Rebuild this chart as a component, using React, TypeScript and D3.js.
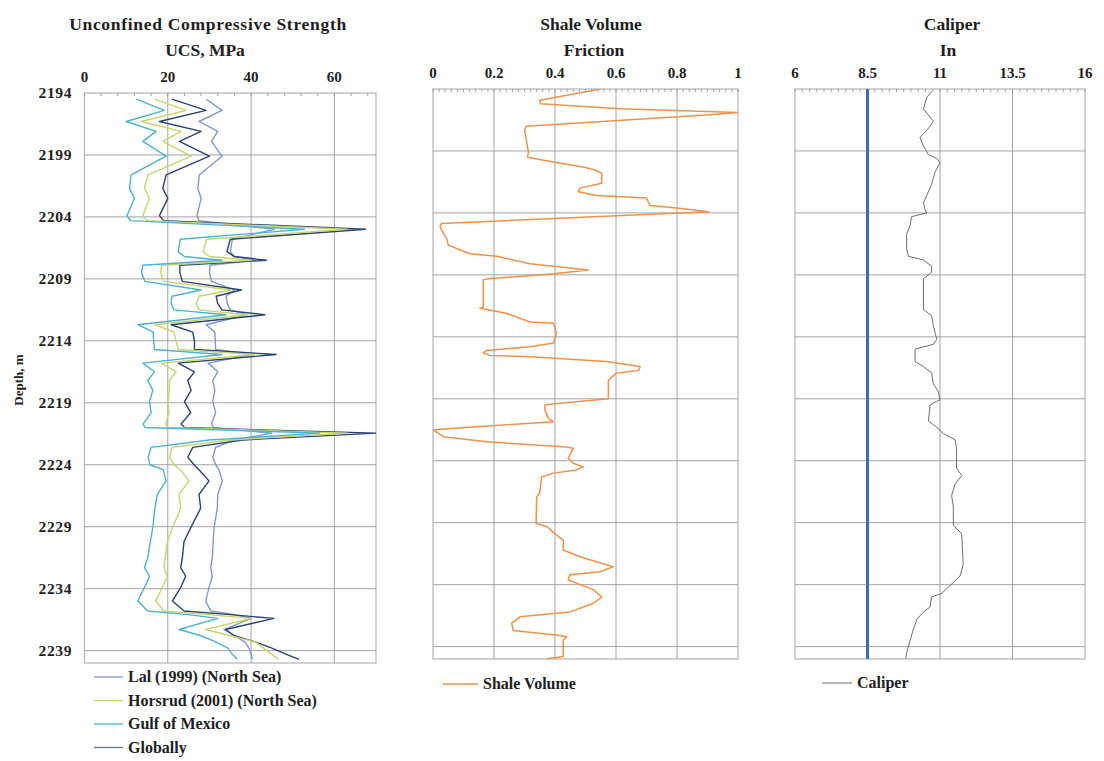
import React from 'react';
import * as d3 from 'd3';

// ---------- UCS panel data ----------
const ucsDepth = [2194.5, 2195.4, 2196.3, 2197.1, 2197.9, 2199.1, 2200.6, 2201.7, 2202.5, 2203.9, 2204.3, 2205.0, 2205.8, 2206.8, 2207.2, 2207.5, 2207.9, 2208.5, 2209.2, 2209.9, 2210.4, 2211.0, 2211.5, 2211.9, 2212.7, 2213.3, 2214.0, 2214.7, 2215.1, 2215.8, 2216.5, 2217.2, 2218.0, 2218.9, 2219.8, 2220.7, 2221.0, 2221.45, 2222.0, 2222.6, 2223.4, 2224.0, 2224.4, 2225.3, 2226.4, 2227.5, 2229.1, 2230.2, 2231.5, 2232.3, 2233.0, 2233.9, 2235.0, 2235.8, 2236.1, 2236.4, 2237.3, 2237.8, 2238.3, 2238.8, 2239.3, 2239.7];
const ucsGulfOfMexico = [12.4, 19.2, 10, 17.2, 14, 19.6, 11.2, 10.8, 12, 10.2, 11, 52.8, 23, 22.5, 24, 33, 14, 13.7, 14.5, 28, 21, 20.8, 21.5, 34, 12.8, 16.5, 16.6, 16.8, 33, 14, 16.8, 15.2, 16.4, 15.6, 16, 14.1, 14.5, 56.5, 30, 16, 15.3, 15.7, 18.9, 19.6, 17.5, 16.9, 16.4, 15.8, 15.2, 14.4, 15.6, 14.4, 12.8, 15.2, 25, 32, 22.7, 28, 31.5, 34.4, 35.5, 36.7];
const ucsHorsrud = [16.8, 24.4, 13.6, 23.2, 18.8, 25.6, 15.2, 14.4, 15.6, 14, 15, 63, 29.3, 28.5, 30, 40, 18.5, 18.3, 19, 35.2, 27.5, 26.8, 27.5, 39, 16.8, 21.5, 22, 22.5, 40.8, 18.5, 22, 20.4, 20.4, 20, 20.3, 19.5, 20, 63, 35, 21, 20.4, 21.5, 23, 25.1, 22.7, 23.1, 21.1, 19.9, 19.4, 19.1, 19.9, 18.7, 17.1, 19.1, 30, 40, 29.1, 35, 41, 43, 45, 46.7];
const ucsGlobally = [21, 29.2, 18, 28, 22.8, 30, 19.6, 18.8, 20, 18, 19, 67.5, 35, 34.2, 36, 43.7, 22.9, 22.9, 23.5, 37.7, 31.6, 32, 33, 43.3, 20.8, 26, 26.4, 26.4, 46, 22.5, 26.4, 24.8, 25.6, 24, 25.5, 23.2, 24, 70, 38, 26, 24.8, 26.3, 27.5, 29.9, 27.5, 27.9, 25.5, 23.9, 23.5, 23.1, 24.3, 23.1, 21.1, 23.9, 35, 45.5, 33.9, 36, 41, 45, 48.5, 51.5];
const ucsLal = [29.3, 33, 27.5, 32, 30.5, 33, 27.6, 27.2, 28, 27, 27.5, 45.6, 35.5, 35, 36, 41, 30.1, 30, 30.5, 36, 34, 34.3, 35, 39, 29.2, 31.3, 31.4, 31.5, 40, 29.7, 32, 30.8, 31.3, 30.8, 31.5, 30.5, 31, 45, 36, 31.5, 30.8, 31.5, 32.3, 33.1, 32, 31.9, 31.1, 30.9, 30.7, 30.3, 30.7, 29.9, 29.1, 30.3, 36, 40, 33.5, 36, 38.5, 39.5, 40, 40.3];
const ucsTicks = [0, 20, 40, 60];

// ---------- Shale volume data ----------
const shaleDepth = [2194.0, 2194.9, 2195.2, 2195.6, 2195.9, 2196.05, 2197.0, 2197.3, 2199.1, 2199.5, 2199.9, 2200.3, 2200.5, 2200.8, 2201.6, 2202.0, 2202.3, 2202.6, 2202.8, 2203.4, 2203.6, 2203.9, 2204.85, 2205.1, 2205.65, 2206.05, 2206.6, 2207.3, 2207.5, 2208.1, 2208.3, 2208.6, 2208.9, 2209.15, 2209.3, 2209.4, 2211.6, 2211.7, 2211.8, 2212.1, 2212.5, 2212.8, 2212.9, 2213.7, 2214.5, 2214.8, 2215.1, 2215.3, 2215.5, 2215.6, 2216.0, 2216.4, 2216.7, 2216.95, 2217.5, 2219.0, 2219.4, 2219.5, 2219.9, 2220.6, 2220.85, 2221.5, 2222.06, 2222.47, 2222.9, 2223.0, 2223.8, 2224.2, 2224.5, 2224.75, 2225.0, 2225.3, 2226.6, 2226.9, 2229.06, 2229.3, 2229.9, 2230.4, 2231.2, 2231.75, 2232.55, 2232.96, 2233.2, 2233.6, 2234.0, 2234.4, 2235.0, 2235.5, 2236.2, 2236.6, 2237.1, 2237.7, 2238.1, 2238.2, 2238.5, 2239.8, 2240.0];
const shaleVolume = [0.55, 0.35, 0.353, 0.613, 1.0, 0.92, 0.307, 0.3, 0.313, 0.31, 0.395, 0.493, 0.526, 0.553, 0.553, 0.482, 0.476, 0.537, 0.70, 0.711, 0.80, 0.903, 0.028, 0.023, 0.034, 0.045, 0.05, 0.121, 0.209, 0.318, 0.395, 0.509, 0.395, 0.274, 0.187, 0.165, 0.165, 0.154, 0.176, 0.24, 0.285, 0.318, 0.395, 0.405, 0.395, 0.318, 0.176, 0.165, 0.187, 0.318, 0.569, 0.679, 0.675, 0.60, 0.575, 0.575, 0.40, 0.367, 0.367, 0.378, 0.395, 0.001, 0.034, 0.176, 0.438, 0.46, 0.443, 0.46, 0.493, 0.47, 0.395, 0.356, 0.35, 0.34, 0.338, 0.373, 0.40, 0.427, 0.427, 0.482, 0.591, 0.548, 0.449, 0.443, 0.482, 0.526, 0.553, 0.526, 0.449, 0.285, 0.258, 0.263, 0.416, 0.438, 0.427, 0.427, 0.37];
const shaleTicks = [0, 0.2, 0.4, 0.6, 0.8, 1];

// ---------- Caliper data ----------
const caliperDepth = [2194.2, 2194.7, 2195.6, 2196.1, 2196.6, 2197.0, 2197.5, 2197.9, 2198.6, 2199.3, 2199.6, 2199.95, 2200.7, 2201.7, 2202.6, 2203.2, 2203.7, 2204.0, 2204.3, 2205.0, 2205.7, 2206.9, 2207.5, 2207.8, 2208.3, 2208.8, 2209.3, 2211.8, 2212.3, 2213.1, 2214.2, 2214.6, 2215.0, 2216.0, 2216.4, 2216.9, 2217.8, 2218.4, 2219.1, 2219.2, 2219.5, 2220.8, 2221.3, 2221.8, 2222.3, 2223.0, 2224.6, 2225.2, 2225.9, 2226.8, 2227.7, 2229.2, 2229.9, 2232.4, 2233.3, 2234.2, 2234.7, 2235.0, 2235.8, 2236.2, 2236.8, 2237.6, 2238.5, 2239.5, 2240.0];
const caliperValues = [10.71, 10.54, 10.43, 10.6, 10.77, 10.66, 10.48, 10.31, 10.43, 10.6, 10.89, 11.0, 10.83, 10.71, 10.54, 10.43, 10.48, 10.54, 10.02, 9.97, 9.85, 9.85, 9.91, 10.43, 10.71, 10.71, 10.43, 10.43, 10.71, 10.77, 10.89, 10.77, 10.14, 10.14, 10.43, 10.71, 10.77, 10.94, 11.0, 10.89, 10.66, 10.6, 10.89, 11.11, 11.52, 11.57, 11.57, 11.75, 11.52, 11.4, 11.46, 11.46, 11.75, 11.8, 11.69, 11.29, 11.06, 10.71, 10.66, 10.43, 10.2, 10.08, 9.97, 9.85, 9.82];
const caliperTicks = [6, 8.5, 11, 13.5, 16];
const bitSize = 8.5;

const depthTicks = [2194, 2199, 2204, 2209, 2214, 2219, 2224, 2229, 2234, 2239];
const depthDomain: [number, number] = [2194, 2240];

const FONT = '"Liberation Serif", "Times New Roman", serif';
const GRID = '#a3a3a3';
const BORDER = '#b5b5b5';
const INK = '#1e1e1e';

type PanelProps = {
  id: string;
  x0: number; x1: number; y0: number; y1: number;
  xDomain: [number, number];
  xTicks: number[];
  minorStep: number;
  tickFmt: (v: number) => string;
  series: { xs: number[]; ds: number[]; color: string; width: number }[];
  vlines?: { v: number; color: string; width: number }[];
};

function Panel(p: PanelProps) {
  const x = d3.scaleLinear().domain(p.xDomain).range([p.x0, p.x1]);
  const y = d3.scaleLinear().domain(depthDomain).range([p.y0, p.y1]);
  const minors = d3.range(p.xDomain[0], p.xDomain[1] + 1e-9, p.minorStep);
  return (
    <g>
      <defs>
        <clipPath id={p.id}>
          <rect x={p.x0} y={p.y0} width={p.x1 - p.x0} height={p.y1 - p.y0} />
        </clipPath>
      </defs>
      <rect x={p.x0} y={p.y0} width={p.x1 - p.x0} height={p.y1 - p.y0} fill="#fff" stroke={BORDER} strokeWidth={1.2} />
      {p.xTicks.filter((t) => t > p.xDomain[0] && t < p.xDomain[1]).map((t) => (
        <line key={'v' + t} x1={x(t)} x2={x(t)} y1={p.y0} y2={p.y1} stroke={GRID} strokeWidth={1} />
      ))}
      {depthTicks.slice(1).map((d) => (
        <line key={'h' + d} x1={p.x0} x2={p.x1} y1={y(d)} y2={y(d)} stroke={GRID} strokeWidth={1} />
      ))}
      {minors.map((m, i) => (
        <line key={'m' + i} x1={x(m)} x2={x(m)} y1={p.y0} y2={p.y0 + 3} stroke="#8c8c8c" strokeWidth={0.8} />
      ))}
      {p.xTicks.map((t) => (
        <text key={'t' + t} x={x(t)} y={p.y0 - 11} textAnchor="middle" fontFamily={FONT} fontWeight="bold" fontSize={15} fill={INK}>
          {p.tickFmt(t)}
        </text>
      ))}
      <g clipPath={`url(#${p.id})`}>
        {(p.vlines || []).map((v, i) => (
          <line key={'bl' + i} x1={x(v.v)} x2={x(v.v)} y1={p.y0} y2={p.y1} stroke={v.color} strokeWidth={v.width} />
        ))}
        {p.series.map((s, i) => {
          const pts: [number, number][] = s.ds.map((d, k) => [s.xs[k], d]);
          const line = d3.line<[number, number]>().x((q) => x(q[0])).y((q) => y(q[1]));
          return <path key={'s' + i} d={line(pts) || ''} fill="none" stroke={s.color} strokeWidth={s.width} strokeLinejoin="round" />;
        })}
      </g>
    </g>
  );
}

const C_GOM = '#4cb3cf';
const C_HORS = '#c6d56c';
const C_GLOB = '#2a4373';
const C_LAL = '#7f98cf';
const C_SHALE = '#f0914a';
const C_CAL = '#6e6e6e';

export default function App() {
  const leftY0 = 93, leftY1 = 663;
  const yLeft = d3.scaleLinear().domain(depthDomain).range([leftY0, leftY1]);
  const legendLeft = [
    { label: 'Lal (1999) (North Sea)', color: C_LAL },
    { label: 'Horsrud (2001) (North Sea)', color: C_HORS },
    { label: 'Gulf of Mexico', color: C_GOM },
    { label: 'Globally', color: '#6a7896' },
  ];
  const titleProps = { fontFamily: FONT, fontWeight: 'bold' as const, fontSize: 17.5, fill: INK, textAnchor: 'middle' as const };
  return (
    <svg width={1104} height={761} style={{ position: 'absolute', left: 0, top: 0, display: 'block', background: '#fff' }}>
      <rect x={0} y={0} width={1104} height={761} fill="#fff" />
      {/* Titles */}
      <text x={208} y={30} {...titleProps} letterSpacing={0.7}>Unconfined Compressive Strength</text>
      <text x={205} y={56} {...titleProps}>UCS, MPa</text>
      <text x={591} y={30} {...titleProps}>Shale Volume</text>
      <text x={594} y={56} {...titleProps}>Friction</text>
      <text x={952} y={30} {...titleProps}>Caliper</text>
      <text x={948} y={56} {...titleProps}>In</text>

      {/* Depth axis */}
      {depthTicks.map((d) => (
        <text key={d} x={72} y={yLeft(d) + 5} textAnchor="end" fontFamily={FONT} fontWeight="bold" fontSize={15.5} letterSpacing={0.6} fill={INK}>{d}</text>
      ))}
      <text transform={`translate(23, 380) rotate(-90)`} textAnchor="middle" fontFamily={FONT} fontWeight="bold" fontSize={13} fill={INK}>Depth, m</text>

      <Panel
        id="clipUcs"
        x0={84.5} x1={376} y0={leftY0} y1={leftY1}
        xDomain={[0, 70]} xTicks={ucsTicks} minorStep={4}
        tickFmt={(v) => String(v)}
        series={[
          { xs: ucsLal, ds: ucsDepth, color: C_LAL, width: 1.4 },
          { xs: ucsGlobally, ds: ucsDepth, color: C_GLOB, width: 1.4 },
          { xs: ucsHorsrud, ds: ucsDepth, color: C_HORS, width: 1.4 },
          { xs: ucsGulfOfMexico, ds: ucsDepth, color: C_GOM, width: 1.4 },
        ]}
      />
      <Panel
        id="clipShale"
        x0={433} x1={738} y0={89} y1={659}
        xDomain={[0, 1]} xTicks={shaleTicks} minorStep={0.02}
        tickFmt={(v) => String(v)}
        series={[{ xs: shaleVolume, ds: shaleDepth, color: C_SHALE, width: 1.5 }]}
      />
      <Panel
        id="clipCal"
        x0={795} x1={1085} y0={89} y1={659}
        xDomain={[6, 16]} xTicks={caliperTicks} minorStep={0.25}
        tickFmt={(v) => String(v)}
        series={[{ xs: caliperValues, ds: caliperDepth, color: C_CAL, width: 1 }]}
        vlines={[{ v: bitSize, color: '#3d6cb3', width: 3 }]}
      />

      {/* Legends */}
      {legendLeft.map((l, i) => (
        <g key={l.label}>
          <line x1={94} x2={123} y1={677 + i * 23.5} y2={677 + i * 23.5} stroke={l.color} strokeWidth={1.3} />
          <text x={128} y={682 + i * 23.5} fontFamily={FONT} fontWeight="bold" fontSize={16} fill={INK}>{l.label}</text>
        </g>
      ))}
      <line x1={443} x2={478} y1={684} y2={684} stroke={C_SHALE} strokeWidth={1.5} />
      <text x={483} y={689} fontFamily={FONT} fontWeight="bold" fontSize={16} fill={INK}>Shale Volume</text>
      <line x1={822} x2={852} y1={683} y2={683} stroke={C_CAL} strokeWidth={1} />
      <text x={857} y={688} fontFamily={FONT} fontWeight="bold" fontSize={16} fill={INK}>Caliper</text>
    </svg>
  );
}
